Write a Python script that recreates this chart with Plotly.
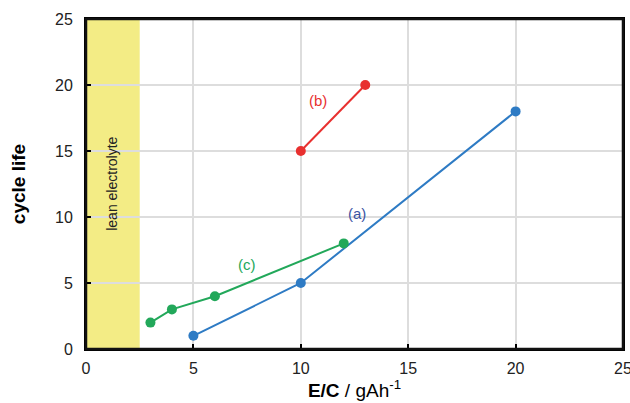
import plotly.graph_objects as go

a_x = [5, 10, 20]
a_y = [1, 5, 18]
b_x = [10, 13]
b_y = [15, 20]
c_x = [3, 4, 6, 12]
c_y = [2, 3, 4, 8]
lean_range = [0, 2.5]

blue = "#2E7BC4"
red = "#E8302F"
green = "#22A85A"

fig = go.Figure()
fig.add_shape(type="rect", xref="x", yref="y", x0=lean_range[0], x1=lean_range[1], y0=0, y1=25,
              fillcolor="#F3EC85", line_width=0, layer="below")
for xs, ys, col in [(a_x, a_y, blue), (b_x, b_y, red), (c_x, c_y, green)]:
    fig.add_trace(go.Scatter(x=xs, y=ys, mode="lines+markers",
                             line=dict(color=col, width=2),
                             marker=dict(color=col, size=10), showlegend=False))
fig.add_shape(type="rect", xref="x domain", yref="y domain", x0=0, x1=1, y0=0, y1=1,
              line=dict(color="#111111", width=2.5), fillcolor="rgba(0,0,0,0)", layer="above")

fig.add_annotation(x=1.2, y=12.5, text="lean electrolyte", textangle=-90, showarrow=False,
                   font=dict(size=14, color="#222222"))
fig.add_annotation(x=12.6, y=10.3, text="(a)", showarrow=False, font=dict(size=15, color="#3A55A4"))
fig.add_annotation(x=10.8, y=18.8, text="(b)", showarrow=False, font=dict(size=15, color=red))
fig.add_annotation(x=7.5, y=6.4, text="(c)", showarrow=False, font=dict(size=15, color=green))

axis_common = dict(showline=True, linecolor="black", linewidth=2, mirror=True,
                   showgrid=True, gridcolor="#DDDDDD", gridwidth=1.5,
                   ticks="inside", ticklen=5, tickcolor="black", tickwidth=1.5,
                   zeroline=False, tickfont=dict(size=16, color="#222222"),
                   ticklabeloverflow="allow", automargin=False)
fig.update_xaxes(range=[0, 25], dtick=5, ticklabelstandoff=4,
                 title=dict(text="<b>E/C</b> / gAh<sup>-1</sup>", font=dict(size=19, color="black"), standoff=6),
                 **axis_common)
fig.update_yaxes(range=[0, 25], dtick=5, ticklabelstandoff=8,
                 title=dict(text="<b>cycle life</b>", font=dict(size=19, color="black"), standoff=24),
                 **axis_common)
fig.update_layout(width=630, height=403, margin=dict(l=86, r=7, t=19, b=54),
                  plot_bgcolor="white", paper_bgcolor="white",
                  font=dict(family="Liberation Sans, Arial, sans-serif"))
fig.write_html("out.html", config={"displayModeBar": False},
               post_script="document.body.style.margin='0';document.body.style.overflow='hidden';")
